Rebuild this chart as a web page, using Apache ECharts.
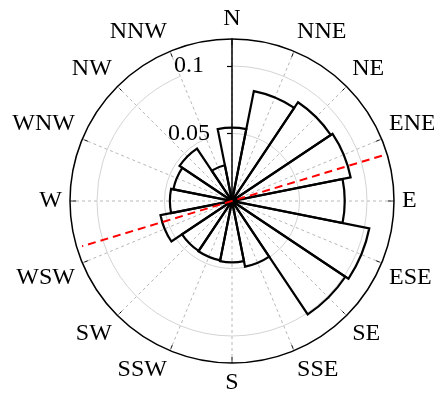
<!DOCTYPE html>
<html>
<head>
<meta charset="utf-8">
<script src="https://cdn.jsdelivr.net/npm/echarts@6/dist/echarts.min.js"></script>
<style>
  html, body { margin: 0; padding: 0; background: #fff; }
  #chart { width: 434px; height: 395px; }
</style>
</head>
<body>
<div id="chart"></div>
<script>
// Wind directions (clockwise from north) and relative frequency per sector
const directions = ['N', 'NNE', 'NE', 'ENE', 'E', 'ESE', 'SE', 'SSE',
                    'S', 'SSW', 'SW', 'WSW', 'W', 'WNW', 'NW', 'NNW'];
const frequencies = [0.0543, 0.083, 0.088, 0.0896, 0.0835, 0.1037, 0.101, 0.0496,
                     0.0454, 0.0448, 0.0445, 0.054, 0.046, 0.0443, 0.0467, 0.027];
// Radial tick labels and principal axis (bearing in degrees, half-length in frequency units)
const radialTicks = [0.05, 0.1];
const principalBearing = 73.2;
const principalReach = 0.116;
const radialMax = 0.12;
const sectorStep = 360 / directions.length;

const serif = '"Liberation Serif", "Times New Roman", serif';
const chart = echarts.init(document.getElementById('chart'), null, { renderer: 'canvas' });

const polarCenter = [232, 201];
const polarRadius = 162;

chart.setOption({
  animation: false,
  backgroundColor: '#fff',
  polar: [
    { center: polarCenter, radius: polarRadius },
    { center: polarCenter, radius: polarRadius }
  ],
  angleAxis: [
    {
      // category axis carrying the sector bars
      polarIndex: 0,
      type: 'category',
      data: directions,
      boundaryGap: false,
      startAngle: 90,
      clockwise: true,
      axisLine: { show: false },
      axisTick: { show: false },
      axisLabel: { show: false },
      splitLine: { show: false }
    },
    {
      // compass ring: full circle, ticks, direction names, dashed spokes
      polarIndex: 1,
      type: 'value',
      min: 0,
      max: 360,
      interval: sectorStep,
      startAngle: 90,
      clockwise: true,
      axisLine: { show: true, lineStyle: { color: '#000', width: 1.5 } },
      axisTick: { show: true, inside: true, length: 6, lineStyle: { color: '#000', width: 1 } },
      axisLabel: {
        show: true, margin: 8, color: '#000', fontSize: 24, fontFamily: serif,
        formatter: function (v) {
          const i = Math.round(v / sectorStep);
          return i < directions.length ? directions[i] : '';
        }
      },
      splitLine: { show: true, lineStyle: { color: '#b8b8b8', width: 1, type: [3, 3] } },
      z: 1
    }
  ],
  radiusAxis: [
    {
      polarIndex: 0,
      type: 'value',
      min: 0,
      max: radialMax,
      interval: 0.025,
      axisLine: { show: true, lineStyle: { color: '#000', width: 1.5 } },
      axisTick: { show: true, length: 5, customValues: radialTicks, lineStyle: { color: '#000', width: 1.2 } },
      axisLabel: {
        show: true,
        customValues: radialTicks,
        formatter: function (v) { return String(Math.round(v * 1000) / 1000); },
        color: '#000', fontSize: 24, fontFamily: serif,
        align: 'center', verticalAlign: 'middle', margin: 43
      },
      splitLine: { show: true, lineStyle: { color: '#d4d4d4', width: 1 } },
      z: 2
    },
    {
      polarIndex: 1,
      type: 'value',
      min: 0,
      max: radialMax,
      axisLine: { show: false },
      axisTick: { show: false },
      axisLabel: { show: false },
      splitLine: { show: false }
    }
  ],
  series: [
    {
      type: 'bar',
      coordinateSystem: 'polar',
      polarIndex: 0,
      data: frequencies,
      barCategoryGap: '0%',
      itemStyle: { color: 'rgba(0,0,0,0)', borderColor: '#000', borderWidth: 2.2 },
      emphasis: { disabled: true },
      z: 3
    },
    {
      type: 'line',
      coordinateSystem: 'polar',
      polarIndex: 1,
      data: [[principalReach, principalBearing], [principalReach, principalBearing + 180]],
      symbol: 'none',
      lineStyle: { color: '#ff0000', width: 2, type: [8, 5] },
      emphasis: { disabled: true },
      z: 4
    }
  ]
});
</script>
</body>
</html>
